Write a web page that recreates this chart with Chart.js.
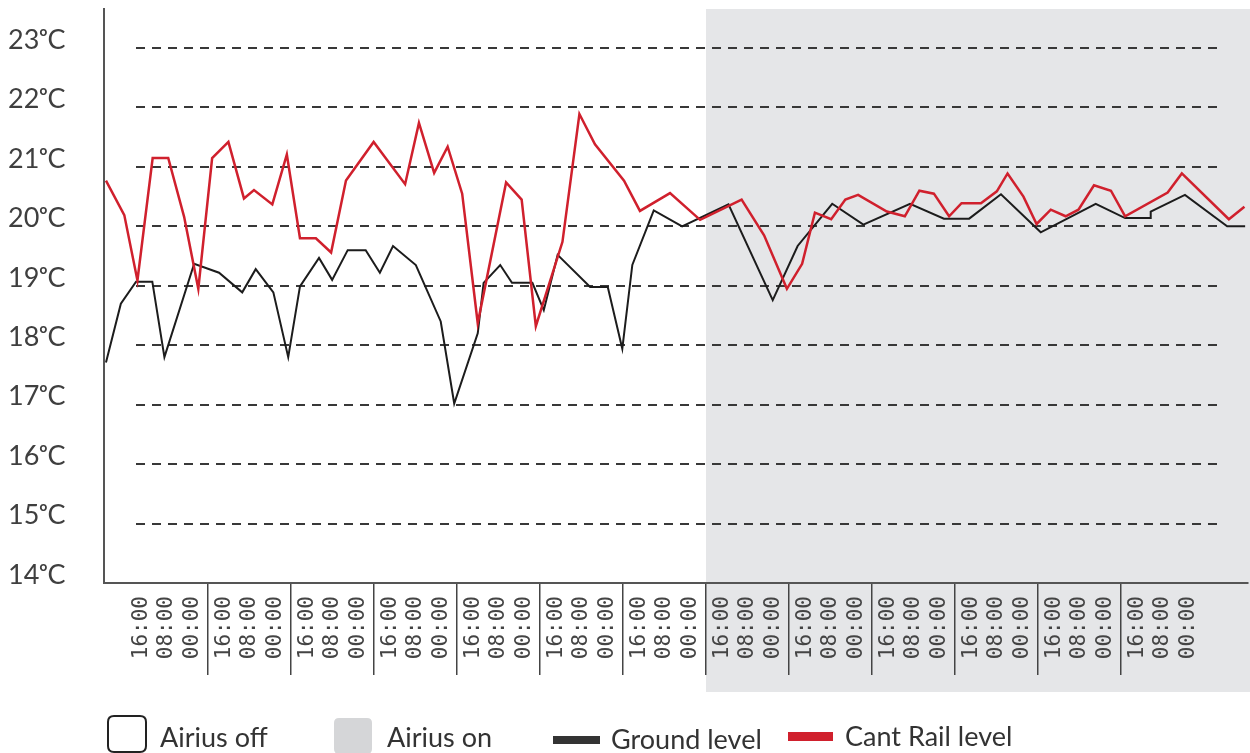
<!DOCTYPE html>
<html><head><meta charset="utf-8">
<script src="https://cdn.jsdelivr.net/npm/chart.js@4.4.1/dist/chart.umd.min.js"></script>
<style>html,body{margin:0;padding:0;background:#fff;overflow:hidden}#wrap{width:1250px;height:753px;position:relative}</style>
</head><body><div id="wrap"><canvas id="c"></canvas></div>
<script>
// ---- data (x = hours, y = °C) ----
const groundHours = [-5.5,-1.2,3.2,7.9,11.4,20.0,27.2,33.9,37.8,42.9,47.2,50.6,56.1,59.9,64.4,69.6,73.7,77.5,84.1,91.3,95.2,102.0,103.7,108.5,111.9,117.8,121.1,125.1,134.5,139.6,143.8,146.7,152.9,161.1,174.5,187.3,194.5,204.5,213.5,227.0,236.8,244.1,253.3,264.8,280.7,289.2,296.6,296.6,306.5,318.7,323.9];
const groundTemps = [17.71,18.70,19.07,19.07,17.80,19.37,19.22,18.89,19.28,18.89,17.80,18.99,19.47,19.10,19.60,19.60,19.22,19.67,19.35,18.40,17.02,18.20,19.05,19.35,19.05,19.05,18.59,19.52,18.98,18.98,17.94,19.35,20.27,20.00,20.37,18.76,19.67,20.38,20.03,20.38,20.13,20.13,20.54,19.90,20.38,20.14,20.14,20.25,20.53,20.00,20.00];
const railHours = [-5.5,-0.2,3.6,8.0,12.5,17.1,21.2,25.2,29.9,34.4,37.3,42.6,46.8,50.6,55.2,59.6,63.9,71.9,81.0,85.0,89.4,93.3,97.5,102.0,110.2,114.7,118.8,126.5,131.4,135.9,144.3,148.9,157.6,166.3,178.3,184.8,191.4,195.8,199.5,204.2,208.3,212.0,220.3,225.5,229.7,233.9,238.3,241.9,247.5,252.1,255.2,259.8,263.6,267.7,272.0,275.7,280.2,285.1,289.2,301.5,305.6,319.2,323.7];
const railTemps = [20.77,20.19,19.09,21.15,21.15,20.16,18.95,21.15,21.42,20.47,20.61,20.37,21.21,19.80,19.80,19.56,20.77,21.42,20.71,21.74,20.90,21.34,20.55,18.37,20.74,20.45,18.32,19.74,21.89,21.38,20.77,20.26,20.56,20.11,20.45,19.85,18.95,19.37,20.23,20.12,20.45,20.53,20.25,20.17,20.60,20.55,20.17,20.39,20.39,20.59,20.89,20.50,20.04,20.28,20.17,20.28,20.69,20.60,20.17,20.57,20.89,20.12,20.33];
const seriesNames = ['Ground level','Cant Rail level'];
const yTickValues = [14,15,16,17,18,19,20,21,22,23];
const yTickLabels = ['14ᵒC','15ᵒC','16ᵒC','17ᵒC','18ᵒC','19ᵒC','20ᵒC','21ᵒC','22ᵒC','23ᵒC'];
const timeLabels = ['16:00','08:00','00:00'];
const dayIndexes = [0,1,2,3,4,5,6,7,8,9,10,11,12];
const airiusOnFromHour = 168;
const legendLabels = ['Airius off','Airius on','Ground level','Cant Rail level'];

// ---- layout constants ----
const HOURS_PER_DAY = 24;
const labelOffsetsH = [4.8, 12.1, 19.4];
const RED = '#d0202d', BLACK = '#1c1c1c', SHADE = '#e5e6e8', AXIS = '#555555';

// build x ticks: day separators + time labels
const xTickValues = [], xTickText = [], xTickIsSep = [];
dayIndexes.forEach(d => {
  if (d > 0) { xTickValues.push(d * HOURS_PER_DAY); xTickText.push(''); xTickIsSep.push(true); }
  timeLabels.forEach((t, k) => { xTickValues.push(d * HOURS_PER_DAY + labelOffsetsH[k]); xTickText.push(t); xTickIsSep.push(false); });
});

const shadePlugin = {
  id: 'shade',
  beforeDraw(chart) {
    const {ctx, chartArea, scales: {x}} = chart;
    const left = x.getPixelForValue(airiusOnFromHour);
    ctx.save();
    ctx.fillStyle = SHADE;
    ctx.fillRect(left, chartArea.top, chart.width - left, chartArea.bottom + 109 - chartArea.top);
    ctx.restore();
  }
};
const dashGridPlugin = {
  id: 'dashGrid',
  beforeDatasetsDraw(chart) {
    const {ctx, chartArea, scales: {y}} = chart;
    ctx.save();
    ctx.strokeStyle = '#383838'; ctx.lineWidth = 2; ctx.setLineDash([9, 7]);
    yTickValues.forEach(v => {
      if (v === y.min) return;
      const py = Math.round(y.getPixelForValue(v));
      ctx.beginPath(); ctx.moveTo(chartArea.left + 32, py); ctx.lineTo(chartArea.right - 28, py); ctx.stroke();
    });
    ctx.restore();
  }
};
function rr(ctx, x, y, w, h, r) {
  ctx.beginPath();
  ctx.moveTo(x + r, y); ctx.lineTo(x + w - r, y); ctx.quadraticCurveTo(x + w, y, x + w, y + r);
  ctx.lineTo(x + w, y + h - r); ctx.quadraticCurveTo(x + w, y + h, x + w - r, y + h);
  ctx.lineTo(x + r, y + h); ctx.quadraticCurveTo(x, y + h, x, y + h - r);
  ctx.lineTo(x, y + r); ctx.quadraticCurveTo(x, y, x + r, y); ctx.closePath();
}
const legendPlugin = {
  id: 'customLegend',
  afterDraw(chart) {
    const ctx = chart.ctx;
    ctx.save();
    ctx.font = '27px Lato';
    ctx.textBaseline = 'middle';
    ctx.fillStyle = '#333';
    // Airius off
    ctx.lineWidth = 2; ctx.strokeStyle = '#222';
    rr(ctx, 108, 716, 38, 36, 6); ctx.fillStyle = '#fff'; ctx.fill(); ctx.stroke();
    ctx.fillStyle = '#333'; ctx.fillText(legendLabels[0], 160, 738);
    // Airius on
    rr(ctx, 334, 718, 38, 36, 5); ctx.fillStyle = '#d5d6d8'; ctx.fill();
    ctx.fillStyle = '#333'; ctx.fillText(legendLabels[1], 387, 738);
    // Ground level
    ctx.fillStyle = '#333'; ctx.fillRect(553, 736, 47, 8);
    ctx.fillText(legendLabels[2], 611, 740);
    // Cant Rail level
    ctx.fillStyle = RED; ctx.fillRect(788, 732, 45, 9);
    ctx.fillStyle = '#333'; ctx.fillText(legendLabels[3], 845, 737);
    ctx.restore();
  }
};

new Chart(document.getElementById('c'), {
  type: 'line',
  data: {
    datasets: [
      { label: seriesNames[1], data: railHours.map((h, i) => ({x: h, y: railTemps[i]})), borderColor: RED, borderWidth: 2.5, pointRadius: 0, tension: 0, fill: false, order: 0 },
      { label: seriesNames[0], data: groundHours.map((h, i) => ({x: h, y: groundTemps[i]})), borderColor: BLACK, borderWidth: 2, pointRadius: 0, tension: 0, fill: false, order: 1 }
    ]
  },
  options: {
    responsive: true, maintainAspectRatio: false, animation: false,
    layout: { padding: { top: 9, right: 2, left: 8, bottom: 0 } },
    plugins: { legend: { display: false }, tooltip: { enabled: false } },
    scales: {
      x: {
        type: 'linear', min: -6.07, max: 324.73,
        afterBuildTicks: s => { s.ticks = xTickValues.map(v => ({value: v})); },
        afterFit: s => { s.height = 170; s.paddingLeft = 0; s.paddingRight = 0; s.paddingTop = 0; s.paddingBottom = 0; },
        grid: { drawOnChartArea: false, drawTicks: true, tickLength: 92, lineWidth: 1.5,
                color: c => (c.type === 'tick' && xTickIsSep[c.index]) ? '#444' : 'rgba(0,0,0,0)' },
        border: { display: true, color: AXIS, width: 2 },
        ticks: { autoSkip: false, minRotation: 90, maxRotation: 90, padding: -79,
                 font: { family: 'DejaVu Sans Mono', size: 21 }, color: '#444',
                 callback: (v, i) => xTickText[i] }
      },
      y: {
        type: 'linear', min: 14, max: 23.657,
        afterBuildTicks: s => { s.ticks = yTickValues.map(v => ({value: v})); },
        afterFit: s => { s.width = 96; s.paddingTop = 0; s.paddingBottom = 0; s.paddingLeft = 0; s.paddingRight = 0; },
        grid: { drawOnChartArea: false, drawTicks: false },
        border: { display: true, color: AXIS, width: 2 },
        ticks: { crossAlign: 'far', padding: 0, labelOffset: -8, font: { family: 'Lato', size: 27 }, color: '#3f3f3f',
                 callback: v => yTickLabels[yTickValues.indexOf(v)] }
      }
    }
  },
  plugins: [shadePlugin, dashGridPlugin, legendPlugin]
});
</script></body></html>
